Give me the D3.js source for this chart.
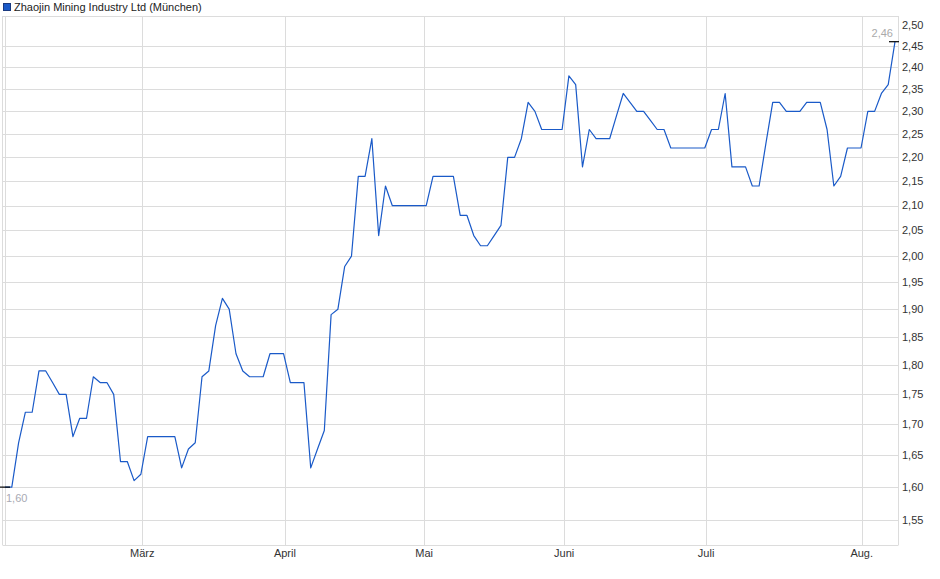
<!DOCTYPE html>
<html>
<head>
<meta charset="utf-8">
<script src="https://cdn.jsdelivr.net/npm/d3@7"></script>
<style>
  body { margin: 0; background: #fff; }
  svg { display: block; font-family: "Liberation Sans", Arial, sans-serif; }
</style>
</head>
<body>
<div id="chart"></div>
<script>
const width = 940;
const height = 579;

const seriesName = "Zhaojin Mining Industry Ltd (München)";

// closing prices, one per trading day (Feb - Aug)
const prices = [
  1.60, 1.60, 1.67, 1.72, 1.72, 1.79, 1.79, 1.77, 1.75, 1.75,
  1.68, 1.71, 1.71, 1.78, 1.77, 1.77, 1.75, 1.64, 1.64, 1.61,
  1.62, 1.68, 1.68, 1.68, 1.68, 1.68, 1.63, 1.66, 1.67, 1.78,
  1.79, 1.87, 1.92, 1.90, 1.82, 1.79, 1.78, 1.78, 1.78, 1.82,
  1.82, 1.82, 1.77, 1.77, 1.77, 1.63, 1.66, 1.69, 1.89, 1.90,
  1.98, 2.00, 2.16, 2.16, 2.24, 2.04, 2.14, 2.10, 2.10, 2.10,
  2.10, 2.10, 2.10, 2.16, 2.16, 2.16, 2.16, 2.08, 2.08, 2.04,
  2.02, 2.02, 2.04, 2.06, 2.20, 2.20, 2.24, 2.32, 2.30, 2.26,
  2.26, 2.26, 2.26, 2.38, 2.36, 2.18, 2.26, 2.24, 2.24, 2.24,
  2.29, 2.34, 2.32, 2.30, 2.30, 2.28, 2.26, 2.26, 2.22, 2.22,
  2.22, 2.22, 2.22, 2.22, 2.26, 2.26, 2.34, 2.18, 2.18, 2.18,
  2.14, 2.14, 2.23, 2.32, 2.32, 2.30, 2.30, 2.30, 2.32, 2.32,
  2.32, 2.26, 2.14, 2.16, 2.22, 2.22, 2.22, 2.30, 2.30, 2.34,
  2.36, 2.46
];

// month starts, as positions on the trading-day index
const monthLabels = ["März", "April", "Mai", "Juni", "Juli", "Aug."];
const monthIndex = [20.2, 41.2, 61.7, 82.3, 103.2, 126.1];

const yTicks = [1.55, 1.60, 1.65, 1.70, 1.75, 1.80, 1.85, 1.90, 1.95, 2.00,
  2.05, 2.10, 2.15, 2.20, 2.25, 2.30, 2.35, 2.40, 2.45, 2.50];

const plot = { left: 3, right: 898, top: 16, bottom: 545.5 };
const gridColor = "#dcdcdc";
const lineColor = "#1a5ac8";

const de = d3.formatLocale({ decimal: ",", thousands: ".", grouping: [3], currency: ["", "€"] });
const fmt = de.format(".2f");

const svg = d3.select("#chart").append("svg").attr("width", width).attr("height", height);

const x = d3.scaleLinear().domain([0, prices.length - 1]).range([5, 895]);
const y = d3.scaleLog().domain([1.55, 2.50]).range([520, 25]);

// horizontal grid (the 2,50 level has no line in the original)
svg.append("g")
  .selectAll("line")
  .data(yTicks.filter((d) => d < 2.5))
  .join("line")
  .attr("x1", plot.left).attr("x2", plot.right)
  .attr("y1", (d) => Math.round(y(d)) + 0.5)
  .attr("y2", (d) => Math.round(y(d)) + 0.5)
  .attr("stroke", gridColor);

// vertical month grid
svg.append("g")
  .selectAll("line")
  .data(monthIndex)
  .join("line")
  .attr("x1", (d) => Math.round(x(d)) + 0.5)
  .attr("x2", (d) => Math.round(x(d)) + 0.5)
  .attr("y1", plot.top).attr("y2", plot.bottom)
  .attr("stroke", gridColor);

// frame
svg.append("line").attr("x1", plot.left).attr("x2", plot.right).attr("y1", plot.top + 0.5).attr("y2", plot.top + 0.5).attr("stroke", gridColor);
svg.append("line").attr("x1", plot.left).attr("x2", plot.right).attr("y1", plot.bottom).attr("y2", plot.bottom).attr("stroke", gridColor);
svg.append("line").attr("x1", plot.left - 0.5).attr("x2", plot.left - 0.5).attr("y1", plot.top).attr("y2", plot.bottom).attr("stroke", gridColor);
svg.append("line").attr("x1", Math.round(x(0)) + 0.5).attr("x2", Math.round(x(0)) + 0.5).attr("y1", plot.top).attr("y2", plot.bottom).attr("stroke", gridColor);
svg.append("line").attr("x1", plot.right + 0.5).attr("x2", plot.right + 0.5).attr("y1", plot.top).attr("y2", plot.bottom).attr("stroke", gridColor);

// right axis labels
svg.append("g")
  .selectAll("text")
  .data(yTicks)
  .join("text")
  .attr("x", 902)
  .attr("y", (d) => y(d))
  .attr("dy", "0.35em")
  .attr("font-size", 11)
  .attr("fill", "#333")
  .text((d) => fmt(d));

// month labels
svg.append("g")
  .selectAll("text")
  .data(monthIndex)
  .join("text")
  .attr("x", (d) => x(d))
  .attr("y", 557)
  .attr("text-anchor", "middle")
  .attr("font-size", 11)
  .attr("fill", "#333")
  .text((d, i) => monthLabels[i]);

// price line
const line = d3.line()
  .x((d, i) => x(i))
  .y((d) => y(d));

svg.append("path")
  .datum(prices)
  .attr("d", line)
  .attr("fill", "none")
  .attr("stroke", lineColor)
  .attr("stroke-width", 1.2)
  .attr("stroke-linejoin", "round");

// first / last value markers
const first = prices[0];
const last = prices[prices.length - 1];

svg.append("line")
  .attr("x1", 0).attr("x2", 10)
  .attr("y1", y(first)).attr("y2", y(first))
  .attr("stroke", "#000").attr("stroke-width", 1.2);
svg.append("text")
  .attr("x", 6).attr("y", y(first) + 15)
  .attr("font-size", 11).attr("fill", "#a8aab4")
  .text(fmt(first));

svg.append("line")
  .attr("x1", 889).attr("x2", 899)
  .attr("y1", y(last)).attr("y2", y(last))
  .attr("stroke", "#000").attr("stroke-width", 1.2);
svg.append("text")
  .attr("x", 893).attr("y", y(last) - 5)
  .attr("text-anchor", "end")
  .attr("font-size", 11).attr("fill", "#aaa")
  .text(fmt(last));

// legend
svg.append("rect")
  .attr("x", 3.5).attr("y", 3.5)
  .attr("width", 7).attr("height", 7)
  .attr("fill", lineColor)
  .attr("stroke", "#1a3a80");
svg.append("text")
  .attr("x", 14).attr("y", 11)
  .attr("font-size", 11)
  .attr("fill", "#222")
  .text(seriesName);
</script>
</body>
</html>
